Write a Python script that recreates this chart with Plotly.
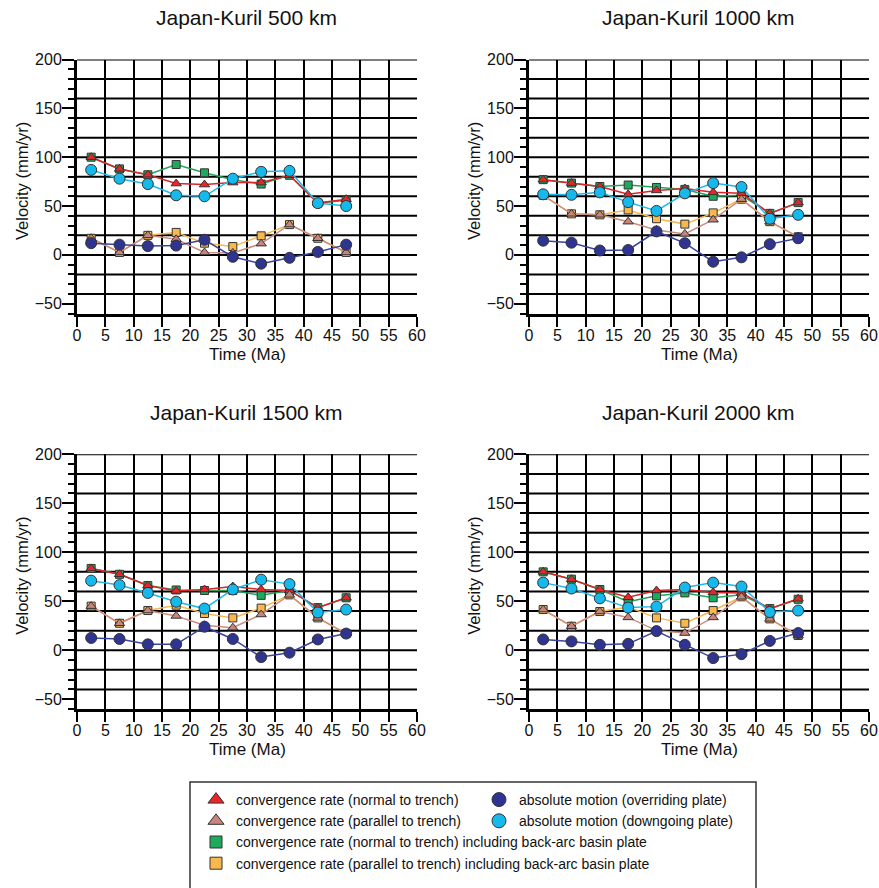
import plotly.graph_objects as go

# Time bins (Ma)
time_ma = [2.5, 7.5, 12.5, 17.5, 22.5, 27.5, 32.5, 37.5, 42.5, 47.5]

# Japan-Kuril, 500 km
normal_500 = [100, 88, 82, 73, 72, 74, 74, 81.5, 53, 57]
parallel_500 = [17, 2.5, 20, 16, 2.5, 2, 11.5, 31, 17, 2.5]
normal_bab_500 = [100, 88, 82, 92.5, 84, 77, 72.5, 81.5, 53, 56]
parallel_bab_500 = [17, 2.5, 20, 23, 12, 8.5, 19.5, 31, 17, 2.5]
overriding_500 = [12, 10.5, 9, 9.5, 15.5, -2, -9, -3, 3, 10.5]
downgoing_500 = [87, 78, 72.5, 61, 60, 78, 85, 86, 53, 50]

# Japan-Kuril, 1000 km
normal_1000 = [77, 73.5, 70, 62, 66, 68, 64, 63, 42.5, 53.5]
parallel_1000 = [61, 42, 41, 34, 25.5, 21.5, 36, 57, 34, 18.5]
normal_bab_1000 = [77, 73.5, 70, 71.5, 69, 67, 60, 61, 42.5, 53.5]
parallel_bab_1000 = [61, 42, 41, 46, 37, 31.5, 43, 57, 34, 18.5]
overriding_1000 = [14.5, 12.5, 4.5, 5, 24, 12, -7, -2.5, 11, 17]
downgoing_1000 = [62, 61.5, 64, 54, 45, 63, 73.5, 69.5, 37, 41]

# Japan-Kuril, 1500 km
normal_1500 = [83.5, 77.5, 66, 60.5, 62, 65, 62, 61, 43.5, 53.5]
parallel_1500 = [45, 27.5, 40.5, 35, 25.5, 23, 36.5, 56.5, 33, 17]
normal_bab_1500 = [83.5, 77.5, 66, 61.5, 61, 61, 56, 61, 43.5, 53.5]
parallel_bab_1500 = [45, 27.5, 40.5, 46, 37.5, 33, 43, 56.5, 33, 17]
overriding_1500 = [12.5, 11.5, 6, 6, 24, 11.5, -7, -2.5, 11, 17]
downgoing_1500 = [71, 66.5, 58.5, 49.5, 42.5, 62, 72, 67.5, 38.5, 41.5]

# Japan-Kuril, 2000 km
normal_2000 = [80, 72.5, 62, 54, 61, 62, 59, 58.5, 42.5, 52.5]
parallel_2000 = [41.5, 24.5, 39.5, 33.5, 20, 17.5, 33.5, 54.5, 32, 15]
normal_bab_2000 = [80, 72.5, 62, 49.5, 55.5, 58.5, 53.5, 56.5, 42.5, 52]
parallel_bab_2000 = [41.5, 24.5, 39.5, 44, 33, 27.5, 40.5, 54.5, 32, 15]
overriding_2000 = [11, 9, 5.5, 6.5, 19.5, 5.5, -8, -4, 9.5, 17.5]
downgoing_2000 = [69, 63, 53, 43.5, 44.5, 64, 69, 65, 39, 40.5]

panel_titles = ["Japan-Kuril 500 km", "Japan-Kuril 1000 km",
                "Japan-Kuril 1500 km", "Japan-Kuril 2000 km"]
x_ticks = list(range(0, 61, 5))
y_ticks = [-50, 0, 50, 100, 150, 200]

panels = [
    dict(normal_bab=normal_bab_500, parallel_bab=parallel_bab_500, normal=normal_500,
         parallel=parallel_500, overriding=overriding_500, downgoing=downgoing_500),
    dict(normal_bab=normal_bab_1000, parallel_bab=parallel_bab_1000, normal=normal_1000,
         parallel=parallel_1000, overriding=overriding_1000, downgoing=downgoing_1000),
    dict(normal_bab=normal_bab_1500, parallel_bab=parallel_bab_1500, normal=normal_1500,
         parallel=parallel_1500, overriding=overriding_1500, downgoing=downgoing_1500),
    dict(normal_bab=normal_bab_2000, parallel_bab=parallel_bab_2000, normal=normal_2000,
         parallel=parallel_2000, overriding=overriding_2000, downgoing=downgoing_2000),
]

# series style: (fill, line colour, symbol, size, legend label, legend group)
styles = {
    "normal_bab": ("#1daa5c", "#22a55a", "square", 8,
                   "convergence rate (normal to trench) including back-arc basin plate", "legend"),
    "parallel_bab": ("#f9b84e", "#f6b84f", "square", 8,
                     "convergence rate (parallel to trench) including back-arc basin plate", "legend"),
    "normal": ("#e8262a", "#d9252a", "triangle-up", 9,
               "convergence rate (normal to trench)", "legend"),
    "parallel": ("#c7857b", "#cc8e84", "triangle-up", 9,
                 "convergence rate (parallel to trench)", "legend"),
    "overriding": ("#2e3490", "#3a42a0", "circle", 11,
                   "absolute motion (overriding plate)", "legend2"),
    "downgoing": ("#16b9ec", "#1cb9ea", "circle", 11,
                  "absolute motion (downgoing plate)", "legend2"),
}
draw_order = ["normal_bab", "parallel_bab", "normal", "parallel", "overriding", "downgoing"]
legend_order = ["normal", "parallel", "normal_bab", "parallel_bab", "overriding", "downgoing"]
legend_sizes = {"square": 12, "triangle-up": 14, "circle": 14}

W, H = 879, 888
x_domains = [(77 / W, 417 / W), (529 / W, 869 / W)]
y_domains = [(1 - 313.5 / H, 1 - 59.5 / H), (1 - 709 / H, 1 - 454.3 / H)]

FONT = "Liberation Sans, Arial, Helvetica, sans-serif"
INK = "#111111"

fig = go.Figure()
shapes = []
annotations = []

for i, data in enumerate(panels):
    n = i + 1
    sfx = "" if n == 1 else str(n)
    xd = x_domains[i % 2]
    yd = y_domains[i // 2]

    for key in draw_order:
        fill, lcol, sym, size, label, _ = styles[key]
        fig.add_trace(go.Scatter(
            x=time_ma, y=data[key], mode="lines+markers",
            line=dict(color=lcol, width=1.5),
            marker=dict(symbol=sym, size=size, color=fill,
                        line=dict(color="#333333", width=1)),
            name=label, showlegend=False,
            xaxis="x" + sfx, yaxis="y" + sfx,
        ))

    fig.layout["xaxis" + sfx] = dict(
        domain=list(xd), range=[0, 60], anchor="y" + sfx,
        tickmode="array", tickvals=x_ticks,
        showgrid=True, gridcolor="black", gridwidth=2,
        showline=True, linecolor="black", linewidth=3,
        ticks="outside", ticklen=10, tickwidth=2, tickcolor="black",
        ticklabelstandoff=-5, automargin=False,
        zeroline=False, tickfont=dict(family=FONT, size=16, color=INK),
    )
    fig.layout["yaxis" + sfx] = dict(
        domain=list(yd), range=[-60, 200], anchor="x" + sfx,
        tickmode="array", tickvals=y_ticks,
        showgrid=False, zeroline=False,
        showline=True, linecolor="black", linewidth=3,
        ticks="outside", ticklen=12, tickwidth=2, tickcolor="black",
        ticklabelstandoff=-3, automargin=False,
        minor=dict(dtick=10, tick0=0, ticks="outside", ticklen=6,
                   tickwidth=2, tickcolor="black", showgrid=False),
        tickfont=dict(family=FONT, size=16, color=INK),
    )

    # horizontal grid every 20 mm/yr
    for v in range(-40, 201, 20):
        shapes.append(dict(type="line", xref="x" + sfx, yref="y" + sfx,
                           x0=0, x1=60, y0=v, y1=v, layer="below",
                           line=dict(color="black", width=2)))

    xc = (xd[0] + xd[1]) / 2
    annotations.append(dict(text=panel_titles[i], xref="paper", yref="paper",
                            x=xc - 1 / W, y=yd[1] + 41.5 / H, xanchor="center", yanchor="middle",
                            showarrow=False, font=dict(family=FONT, size=21, color=INK)))
    annotations.append(dict(text="Time (Ma)", xref="paper", yref="paper",
                            x=xc, y=yd[0] - 40.5 / H, xanchor="center", yanchor="middle",
                            showarrow=False, font=dict(family=FONT, size=17, color=INK)))
    annotations.append(dict(text="Velocity (mm/yr)", xref="paper", yref="paper",
                            x=xd[0] - 55 / W, y=yd[1] - 121.5 / H, xanchor="center",
                            yanchor="middle", textangle=-90,
                            showarrow=False, font=dict(family=FONT, size=16.5, color=INK)))

# legend-only entries (markers without lines)
for key in legend_order:
    fill, lcol, sym, size, label, lg = styles[key]
    fig.add_trace(go.Scatter(
        x=[None], y=[None], mode="markers", name=label,
        marker=dict(symbol=sym, size=legend_sizes[sym], color=fill,
                    line=dict(color="#333333", width=1)),
        showlegend=True, legend=lg, xaxis="x", yaxis="y",
    ))

# legend frame
shapes.append(dict(type="rect", xref="paper", yref="paper",
                   x0=190 / W, x1=756 / W, y0=-0.02, y1=1 - 782 / H,
                   line=dict(color="#333333", width=1.5), fillcolor="rgba(0,0,0,0)"))

legend_common = dict(
    bgcolor="rgba(0,0,0,0)", borderwidth=0, orientation="v",
    font=dict(family=FONT, size=14, color=INK),
    itemsizing="trace", yanchor="top", xanchor="left",
    tracegroupgap=0, itemclick=False, itemdoubleclick=False,
)

fig.update_layout(
    width=W, height=H,
    margin=dict(l=0, r=0, t=0, b=0, pad=0, autoexpand=False),
    paper_bgcolor="white", plot_bgcolor="white",
    shapes=shapes, annotations=annotations,
    legend=dict(x=196 / W, y=1 - 784 / H, **legend_common),
    legend2=dict(x=479 / W, y=1 - 784 / H, **legend_common),
    showlegend=True,
)

fig.write_html("out.html")
